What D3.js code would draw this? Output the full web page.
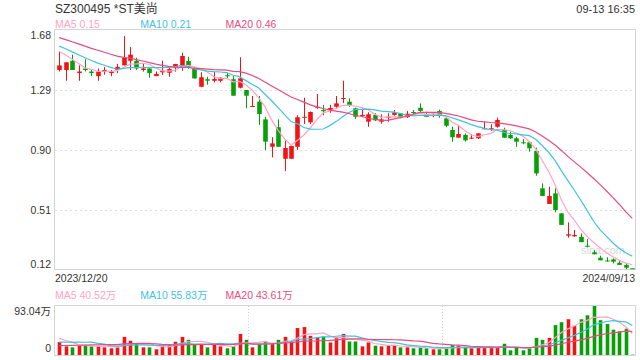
<!DOCTYPE html>
<html>
<head>
<meta charset="utf-8">
<script src="https://cdn.jsdelivr.net/npm/d3@7"></script>
<style>
  body { margin: 0; background: #fff; }
  svg text { font-family: "Liberation Sans", Arial, "Noto Sans CJK SC", sans-serif; }
</style>
</head>
<body>
<script>
// header / labels
const title = 'SZ300495 *ST美尚';
const stamp = '09-13 16:35';
const priceLegend = ['MA5 0.15', 'MA10 0.21', 'MA20 0.46'];
const volLegend = ['MA5 40.52万', 'MA10 55.83万', 'MA20 43.61万'];
const priceTicks = [1.68, 1.29, 0.90, 0.51, 0.12];
const dateLabels = ['2023/12/20', '2024/09/13'];
const volTicks = ['93.04万', '0'];

// daily candles, 2023/12/20 .. 2024/09/13
const opens = [1.42,1.42,1.48,1.40,1.43,1.41,1.38,1.41,1.40,1.42,
  1.45,1.48,1.48,1.42,1.43,1.38,1.405,1.402,1.435,1.438,
  1.478,1.433,1.311,1.360,1.350,1.350,1.386,1.360,1.305,1.29,
  1.181,1.214,1.099,0.921,1.048,0.843,0.843,0.921,1.110,1.080,
  1.175,1.160,1.160,1.181,1.232,1.214,1.171,1.121,1.084,1.128,
  1.084,1.108,1.128,1.139,1.113,1.147,1.175,1.132,1.125,1.154,
  1.106,1.030,0.980,0.998,0.976,0.976,1.035,1.036,1.051,1.030,
  0.998,0.976,0.950,0.950,0.894,0.651,0.549,0.618,0.488,0.343,
  0.339,0.336,0.278,0.235,0.200,0.182,0.189,0.167,0.153,0.131];
const highs = [1.54,1.47,1.52,1.45,1.49,1.42,1.43,1.44,1.42,1.46,
  1.64,1.57,1.50,1.46,1.44,1.41,1.48,1.446,1.46,1.532,
  1.506,1.44,1.405,1.376,1.407,1.372,1.402,1.381,1.503,1.29,
  1.251,1.251,1.116,0.983,1.099,0.960,0.928,1.126,1.240,1.150,
  1.264,1.193,1.193,1.251,1.35,1.236,1.175,1.171,1.145,1.139,
  1.132,1.139,1.160,1.140,1.154,1.160,1.203,1.149,1.141,1.162,
  1.115,1.051,1.063,1.008,1.002,1.010,1.084,1.067,1.110,1.045,
  1.019,0.986,0.972,0.954,0.915,0.683,0.661,0.651,0.490,0.430,
  0.380,0.358,0.322,0.250,0.213,0.203,0.196,0.178,0.163,0.131];
const lows = [1.41,1.35,1.42,1.35,1.41,1.38,1.35,1.39,1.38,1.40,
  1.45,1.42,1.42,1.41,1.37,1.38,1.388,1.376,1.409,1.415,
  1.428,1.365,1.308,1.324,1.340,1.340,1.368,1.253,1.301,1.171,
  1.181,1.063,0.900,0.852,0.921,0.764,0.843,0.900,1.069,1.069,
  1.168,1.126,1.142,1.171,1.205,1.181,1.102,1.116,1.051,1.088,
  1.071,1.084,1.123,1.106,1.108,1.128,1.145,1.116,1.113,1.110,
  1.048,0.954,0.980,0.954,0.972,0.972,1.035,1.024,1.045,0.980,
  0.972,0.921,0.937,0.889,0.733,0.601,0.549,0.495,0.413,0.330,
  0.336,0.301,0.267,0.222,0.183,0.174,0.163,0.153,0.126,0.129];
const closes = [1.45,1.47,1.42,1.41,1.42,1.40,1.41,1.42,1.41,1.44,
  1.50,1.52,1.43,1.43,1.40,1.395,1.415,1.426,1.459,1.511,
  1.438,1.365,1.373,1.350,1.362,1.370,1.379,1.253,1.366,1.253,
  1.186,1.134,0.954,0.943,0.921,0.913,0.926,1.113,1.116,1.147,
  1.181,1.152,1.173,1.203,1.238,1.193,1.116,1.128,1.132,1.093,
  1.099,1.116,1.145,1.113,1.136,1.142,1.154,1.116,1.129,1.123,
  1.058,0.983,1.004,0.963,0.980,1.008,1.041,1.041,1.095,0.980,
  0.976,0.954,0.946,0.911,0.748,0.601,0.601,0.510,0.413,0.352,
  0.348,0.301,0.271,0.222,0.183,0.180,0.174,0.153,0.135,0.129];
// volume, 万股
const volumes = [24.6,16.4,14.5,17.7,19.0,16.4,16.4,14.5,12.7,14.5,
  34.4,27.0,21.4,14.5,14.5,10.8,19.0,19.0,25.1,34.4,
  28.8,20.8,20.8,14.5,20.8,16.4,12.7,16.4,40.0,28.8,
  14.5,20.8,25.7,20.8,28.8,34.4,25.7,51.2,53.0,36.3,
  33.9,35.0,23.8,33.9,40.0,25.7,25.7,16.4,23.8,17.7,
  16.4,17.7,19.0,14.5,14.5,12.7,14.5,12.7,10.8,10.8,
  14.5,19.0,17.7,14.5,12.7,14.5,14.5,14.5,14.5,21.4,
  8.9,14.5,8.9,12.7,32.6,28.8,32.6,56.8,62.3,67.9,
  55.5,67.9,75.4,93.04,66.1,59.0,48.0,45.0,50.0,0.6];

// days before the window, only used to seed the moving averages
const prevCloses = [1.72,1.70,1.69,1.71,1.68,1.66,1.68,1.67,1.69,1.65,
  1.64,1.62,1.60,1.61,1.58,1.58,1.56,1.55,1.56];
const prevVolumes = [9,12,10,14,8,11,13,9,12,10,15,20,14,22,15,38,30,42,25];

const W = 640, H = 360;
const left = 55, right = 635;
const top1 = 30, bot1 = 270;
const top2 = 306, bot2 = 355;
const upColor = '#f01414', downColor = '#08a008';
const maColors = ['#ffa3c4', '#3ec3e2', '#e94b7e'];
const txt = '#333';

function movingAvg(prev, vals, n) {
  const all = prev.concat(vals);
  return vals.map((v, i) => {
    const end = prev.length + i + 1;
    return d3.mean(all.slice(end - n, end));
  });
}

const idx = d3.range(closes.length);
const x = d3.scaleBand().domain(idx).range([56, 635.5]);
const cx = i => x(i) + x.bandwidth() / 2;
const y = d3.scaleLinear().domain([0.12, 1.68]).range([bot1, top1]);
const yv = d3.scaleLinear().domain([0, d3.max(volumes)]).range([bot2, top2]);

const svg = d3.select('body').append('svg')
  .attr('width', W).attr('height', H);

// header
svg.append('text').attr('x', left).attr('y', 13)
  .attr('font-size', 12).attr('fill', txt).text(title);
svg.append('text').attr('x', right).attr('y', 13)
  .attr('font-size', 11).attr('fill', txt).attr('text-anchor', 'end').text(stamp);

function legend(items, yy) {
  svg.append('g').selectAll('text').data(items).join('text')
    .attr('x', (d, i) => left + i * 85.3)
    .attr('y', yy)
    .attr('font-size', 10.5)
    .attr('fill', (d, i) => maColors[i])
    .text(d => d);
}
legend(priceLegend, 28);
legend(volLegend, 299);

// price panel grid + frame
svg.append('g').selectAll('line').data(priceTicks.slice(1, -1)).join('line')
  .attr('x1', left).attr('x2', right)
  .attr('y1', d => Math.round(y(d)) + 0.5).attr('y2', d => Math.round(y(d)) + 0.5)
  .attr('stroke', '#dcdcdc').attr('stroke-dasharray', '2,3');
svg.append('rect').attr('x', left - 0.5).attr('y', top1 - 0.5)
  .attr('width', right - left + 1).attr('height', bot1 - top1)
  .attr('fill', 'none').attr('stroke', '#d4d4d4');

const yAxis = svg.append('g').attr('transform', `translate(${left - 4},0)`)
  .call(d3.axisLeft(y).tickValues(priceTicks).tickSize(0).tickPadding(0)
    .tickFormat(d3.format('.2f')));
yAxis.select('.domain').remove();
yAxis.selectAll('text').attr('font-size', 10.5).attr('fill', txt)
  .attr('font-family', '"Liberation Sans", Arial, sans-serif')
  .attr('dy', (d, i) => i === 0 ? '0.85em' : i === priceTicks.length - 1 ? '-0.25em' : '0.32em');

// dates
svg.append('text').attr('x', left).attr('y', 282).attr('font-size', 10.5)
  .attr('fill', txt).text(dateLabels[0]);
svg.append('text').attr('x', right).attr('y', 282).attr('font-size', 10.5)
  .attr('fill', txt).attr('text-anchor', 'end').text(dateLabels[1]);

// watermark
svg.append('text').attr('x', 603).attr('y', 254).attr('font-size', 11)
  .attr('text-anchor', 'middle').attr('fill', '#d6d6d6').text('sina.com');

// candles
const candles = svg.append('g').selectAll('g').data(idx).join('g')
  .attr('fill', i => closes[i] >= opens[i] ? upColor : downColor)
  .attr('stroke', i => closes[i] >= opens[i] ? upColor : downColor);
candles.append('line')
  .attr('x1', i => Math.round(cx(i)) + 0.5).attr('x2', i => Math.round(cx(i)) + 0.5)
  .attr('y1', i => y(highs[i])).attr('y2', i => y(lows[i]))
  .attr('stroke-width', 1);
const bodyW = 4.6;
candles.append('rect')
  .attr('x', i => Math.round(cx(i)) + 0.5 - bodyW / 2)
  .attr('width', bodyW)
  .attr('y', i => y(Math.max(opens[i], closes[i])))
  .attr('height', i => Math.max(1, Math.abs(y(opens[i]) - y(closes[i]))))
  .attr('stroke', 'none');

// price moving averages
const maN = [5, 10, 20];
const line = d3.line().x((d, i) => cx(i)).y(d => y(d));
maN.forEach((n, k) => {
  svg.append('path').datum(movingAvg(prevCloses, closes, n))
    .attr('fill', 'none').attr('stroke', maColors[k])
    .attr('stroke-width', 1.2).attr('d', line);
});

// volume panel
svg.append('rect').attr('x', left - 0.5).attr('y', top2 - 0.5)
  .attr('width', right - left + 1).attr('height', bot2 - top2 + 1)
  .attr('fill', 'none').attr('stroke', '#d4d4d4');
svg.append('g').selectAll('line').data([1, 2]).join('line')
  .attr('x1', d => Math.round(left + (right - left) * d / 3) + 0.5)
  .attr('x2', d => Math.round(left + (right - left) * d / 3) + 0.5)
  .attr('y1', top2).attr('y2', bot2)
  .attr('stroke', '#d0d0d0').attr('stroke-dasharray', '1,2');

svg.append('text').attr('x', left - 4).attr('y', yv(d3.max(volumes)) + 9)
  .attr('font-size', 10.5).attr('fill', txt).attr('text-anchor', 'end').text(volTicks[0]);
svg.append('text').attr('x', left - 4).attr('y', yv(0) - 3)
  .attr('font-size', 10.5).attr('fill', txt).attr('text-anchor', 'end').text(volTicks[1]);

const volW = 3.6;
svg.append('g').selectAll('rect').data(idx).join('rect')
  .attr('x', i => Math.round(cx(i)) + 0.5 - volW / 2)
  .attr('width', volW)
  .attr('y', i => yv(volumes[i]))
  .attr('height', i => yv(0) - yv(volumes[i]))
  .attr('fill', i => closes[i] >= opens[i] ? upColor : downColor);

const vline = d3.line().x((d, i) => cx(i)).y(d => yv(d));
maN.forEach((n, k) => {
  svg.append('path').datum(movingAvg(prevVolumes, volumes, n))
    .attr('fill', 'none').attr('stroke', maColors[k])
    .attr('stroke-width', 1.2).attr('d', vline);
});
</script>
</body>
</html>
